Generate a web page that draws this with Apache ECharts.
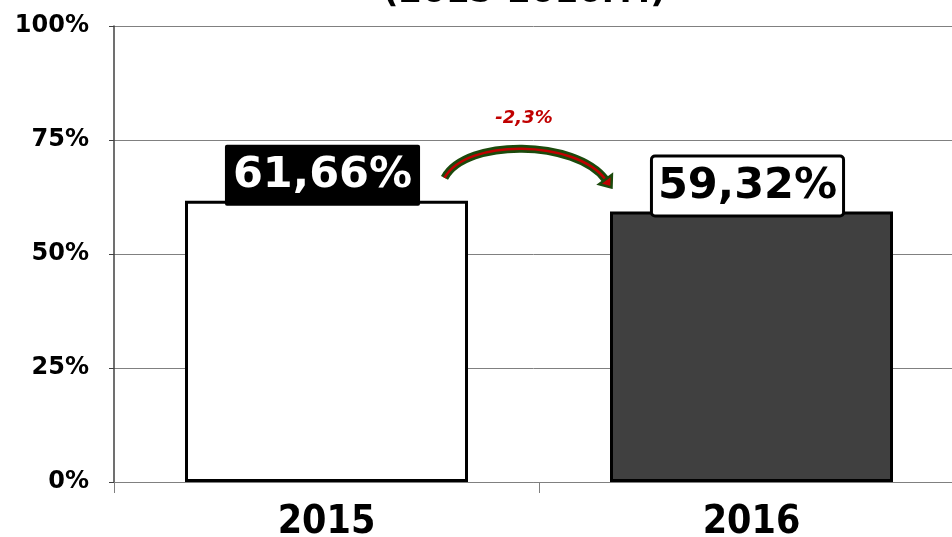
<!DOCTYPE html>
<html>
<head>
<meta charset="utf-8">
<script src="https://cdn.jsdelivr.net/npm/echarts@6/dist/echarts.min.js"></script>
<style>
  html, body { margin: 0; padding: 0; background: #fff; }
  #chart { width: 952px; height: 537px; }
</style>
</head>
<body>
<div id="chart"></div>
<script>
// Chart data
const years = ['2015', '2016'];
const shares = [61.66, 59.32];
const shareLabels = ['61,66%', '59,32%'];
const changeLabel = '-2,3%';
const titleText = '(2015-2016гг.)';
const yTicks = [0, 25, 50, 75, 100];

const FONT = 'DejaVu Sans, Verdana, sans-serif';
const FONT_COND = '"DejaVu Sans Condensed", "DejaVu Sans", sans-serif';

const barStyles = [
  { fill: '#ffffff', label: { color: '#ffffff', backgroundColor: '#000000', borderWidth: 0, padding: [9, 8, 9, 8], distance: -5 } },
  { fill: '#404040', label: { color: '#000000', backgroundColor: '#ffffff', borderColor: '#000000', borderWidth: 3, padding: [8, 5, 6, 5], distance: -3 } }
];

const chart = echarts.init(document.getElementById('chart'), null, { renderer: 'canvas' });

chart.setOption({
  animation: false,
  backgroundColor: '#ffffff',
  title: {
    text: titleText,
    left: 378,
    top: -29,
    textStyle: { fontFamily: FONT, fontWeight: 'bold', fontSize: 34, color: '#000' }
  },
  // plot area runs past the right edge of the canvas
  grid: { left: 114, right: -12, top: 26, bottom: 55, containLabel: false, outerBoundsMode: 'none' },
  xAxis: {
    type: 'category',
    data: years,
    boundaryGap: true,
    axisLine: { lineStyle: { color: '#808080', width: 1 } },
    axisTick: { show: true, length: 11, lineStyle: { color: '#808080' } },
    axisLabel: {
      margin: 21,
      color: '#000',
      fontFamily: FONT_COND,
      fontWeight: 'bold',
      fontSize: 39
    }
  },
  yAxis: {
    type: 'value',
    min: yTicks[0],
    max: yTicks[yTicks.length - 1],
    interval: 25,
    axisLine: { show: true, lineStyle: { color: '#404040', width: 1.5 } },
    axisTick: { show: true, length: 5, lineStyle: { color: '#404040' } },
    splitLine: { show: true, lineStyle: { color: '#808080', width: 1 } },
    axisLabel: {
      margin: 25,
      color: '#000',
      fontFamily: FONT,
      fontWeight: 'bold',
      fontSize: 24,
      formatter: '{value}%'
    }
  },
  series: [{
    type: 'bar',
    barWidth: 283,
    data: shares.map((v, i) => ({
      value: v,
      itemStyle: { color: barStyles[i].fill, borderColor: '#000', borderWidth: 3 },
      label: Object.assign({
        show: true,
        position: 'top',
        offset: [-4, 0],
        formatter: shareLabels[i],
        fontFamily: FONT,
        fontWeight: 'bold',
        fontSize: 43,
        lineHeight: 43,
        borderRadius: 2
      }, barStyles[i].label)
    }))
  }]
});

// Curved arrow showing the change between the two years
function drawChangeArrow() {
  const p0 = chart.convertToPixel({ gridIndex: 0 }, [0, shares[0]]);
  const p1 = chart.convertToPixel({ gridIndex: 0 }, [1, shares[1]]);
  const sx = p0[0] + 118, sy = p0[1] - 23;
  const ex = p1[0] - 146, ey = p1[1] - 32;
  const c1 = [sx + 22, sy - 40];
  const c2 = [ex - 30, ey - 40];
  const dx = ex - c2[0], dy = ey - c2[1];
  const len = Math.sqrt(dx * dx + dy * dy);
  const ux = dx / len, uy = dy / len;
  const nx = -uy, ny = ux;
  const tip = [ex + ux * 10, ey + uy * 10];
  const b1 = [ex + nx * 8, ey + ny * 8];
  const b2 = [ex - nx * 8, ey - ny * 8];
  const curve = { x1: sx, y1: sy, cpx1: c1[0], cpy1: c1[1], cpx2: c2[0], cpy2: c2[1], x2: ex, y2: ey };
  const midX = (p0[0] + p1[0]) / 2 - 15;
  const labelY = chart.convertToPixel({ yAxisIndex: 0 }, 80);

  chart.setOption({
    graphic: [
      { type: 'bezierCurve', shape: curve, style: { stroke: '#1b4a0c', lineWidth: 8, fill: null, lineCap: 'butt' }, z: 10 },
      { type: 'bezierCurve', shape: curve, style: { stroke: '#c00000', lineWidth: 2.5, fill: null }, z: 11 },
      { type: 'polygon', shape: { points: [tip, b1, b2] }, style: { fill: '#c00000', stroke: '#1b4a0c', lineWidth: 2.5, lineJoin: 'miter' }, z: 12 },
      {
        type: 'text', x: midX, y: labelY + 1, z: 12,
        style: {
          text: changeLabel, fill: '#c00000', align: 'center', verticalAlign: 'middle',
          font: 'italic bold 18px ' + FONT
        }
      }
    ]
  });
}
drawChangeArrow();
</script>
</body>
</html>
